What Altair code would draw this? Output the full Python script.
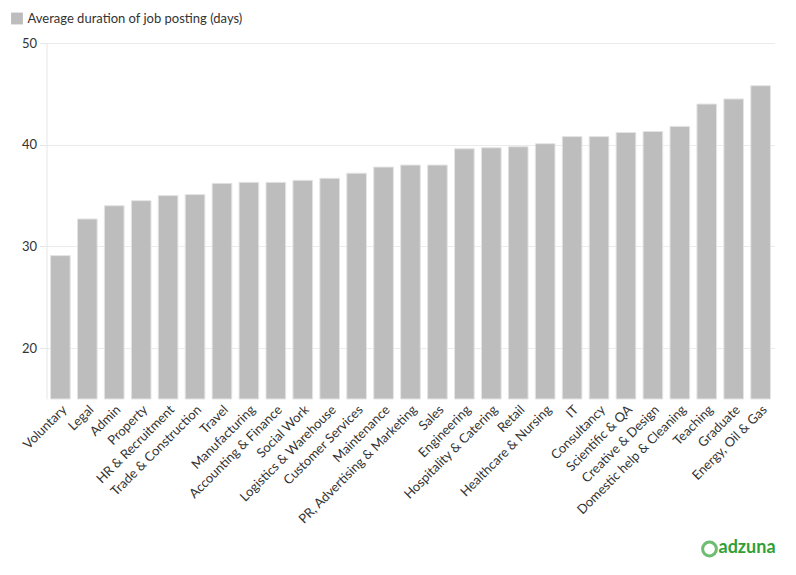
import altair as alt
import pandas as pd

categories = ["Voluntary", "Legal", "Admin", "Property", "HR & Recruitment",
              "Trade & Construction", "Travel", "Manufacturing", "Accounting & Finance",
              "Social Work", "Logistics & Warehouse", "Customer Services", "Maintenance",
              "PR, Advertising & Marketing", "Sales", "Engineering", "Hospitality & Catering",
              "Retail", "Healthcare & Nursing", "IT", "Consultancy", "Scientific & QA",
              "Creative & Design", "Domestic help & Cleaning", "Teaching", "Graduate",
              "Energy, Oil & Gas"]
values = [29.1, 32.7, 34.0, 34.5, 35.0, 35.1, 36.2, 36.3, 36.3, 36.5, 36.7, 37.2, 37.8,
          38.0, 38.0, 39.6, 39.7, 39.8, 40.1, 40.8, 40.8, 41.2, 41.3, 41.8, 44.0, 44.5, 45.8]
series_name = "Average duration of job posting (days)"
y_ticks = [20, 30, 40, 50]

df = pd.DataFrame({"category": categories, "value": values, "series": series_name})

FONT = "Lato"

bars = alt.Chart(df).mark_bar(stroke="#e4e4e4", strokeWidth=1).encode(
    x=alt.X("category:N", sort=categories,
            scale=alt.Scale(paddingInner=0.27, paddingOuter=0.15),
            axis=alt.Axis(title=None, labelAngle=-45, labelFontSize=13, labelFont=FONT,
                          labelColor="#333", ticks=False, domain=False, grid=False,
                          labelPadding=4)),
    y=alt.Y("value:Q", scale=alt.Scale(domain=[15, 50], nice=False, zero=False, clamp=True),
            axis=alt.Axis(title=None, values=y_ticks, labelFontSize=13, labelFont=FONT,
                          labelColor="#333", gridColor="#ebebeb", domainColor="#e6e6e6",
                          tickColor="#e6e6e6", tickSize=7, labelPadding=3)),
    color=alt.Color("series:N", scale=alt.Scale(range=["#bdbdbd"]),
                    legend=alt.Legend(title=None, orient="none", legendX=-36, legendY=-31,
                                      symbolType="square", symbolSize=140,
                                      symbolStrokeWidth=0, labelFontSize=13,
                                      labelLimit=400, labelFont=FONT, labelColor="#333")),
)

logo_df = pd.DataFrame({"t": ["adzuna"]})
logo = alt.Chart(logo_df).mark_text(font=FONT, fontSize=18, fontWeight="bold",
                                    color="#2fa037", align="left", baseline="middle").encode(
    text="t:N", x=alt.value(672), y=alt.value(505))
logo_ring = alt.Chart(logo_df).mark_point(shape="circle", size=190, strokeWidth=3,
                                          color="#2fa037", filled=False).encode(
    x=alt.value(663), y=alt.value(506))

chart = alt.layer(bars, logo_ring, logo).properties(
    width=728, height=356,
    autosize=alt.AutoSizeParams(type="none"),
    padding={"left": 38.5, "top": 35, "right": 8, "bottom": 160},
).configure_view(stroke=None)

chart.save("out.html", embed_options={"renderer": "svg", "actions": False})
